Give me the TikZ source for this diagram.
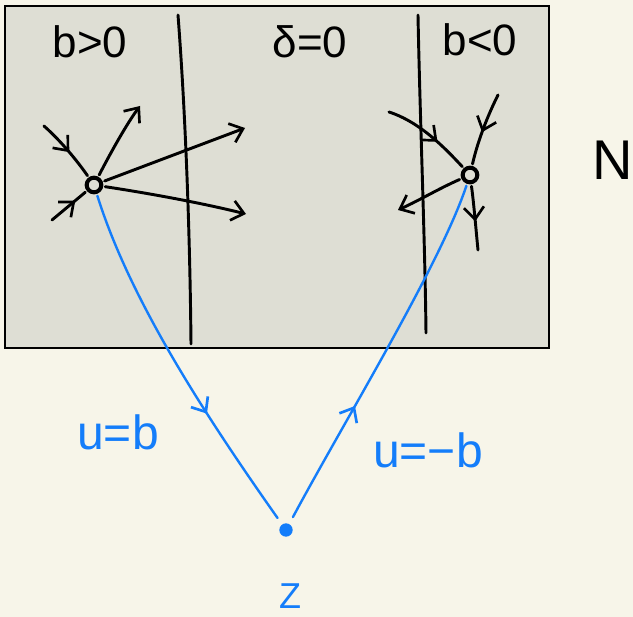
\documentclass[tikz,border=0pt]{standalone}
\usepackage{fontspec}
\setmainfont{Liberation Sans}
\usetikzlibrary{arrows.meta,decorations.markings}
\definecolor{paper}{RGB}{247,245,233}
\definecolor{panel}{RGB}{222,222,212}
\definecolor{pen}{RGB}{0,0,0}
\definecolor{bluepen}{RGB}{20,125,250}
\tikzset{
  ink/.style={draw=pen,line width=2.2pt,line cap=round,line join=round},
  blueink/.style={draw=bluepen,line width=1.8pt,line cap=round,line join=round},
  tip/.style={-{Straight Barb[length=9pt,width=15pt,line width=2pt]}},
  midarr/.style={postaction={decorate},decoration={markings,
     mark=at position #1 with {\arrow{Straight Barb[length=9pt,width=15pt,line width=2pt]}}}},
  bdot/.style={circle,draw=pen,line width=3pt,minimum size=11pt,inner sep=0pt,outer sep=3pt},
  zdot/.style={circle,fill=bluepen,minimum size=10pt,inner sep=0pt,outer sep=6pt},
  lbl/.style={font=\fontsize{33}{36}\selectfont,inner sep=0pt},
  bl/.style={lbl,text=bluepen,font=\fontsize{36}{38}\selectfont}
}
\begin{document}
\begin{tikzpicture}[x=0.75pt,y=-0.75pt]
\useasboundingbox (0,0) rectangle (633,617);
\fill[paper] (0,0) rectangle (633,617);
\draw[line width=1.8pt,fill=panel] (5,6) rectangle (549,348);

% vertical dividing lines
\coordinate (l1a) at (178,15);
\coordinate (l1b) at (191,344);
\coordinate (l2a) at (418,15);
\coordinate (l2b) at (426,333);
\draw[ink] (l1a) .. controls (186,120) and (190,240) .. (l1b);
\draw[ink] (l2a) .. controls (420,120) and (425,240) .. (l2b);

% labels
\node[lbl] (t1) at (90,42) {b>0};
\node[lbl] (t2) at (310,42) {δ=0};
\node[lbl] (t3) at (480,40) {b<0};
\node[lbl,font=\fontsize{42}{44}\selectfont,anchor=west] (N) at (592,160) {N};

% points
\node[bdot] (p) at (94,185) {};
\node[bdot] (q) at (470,175) {};
\node[zdot] (z) at (286,530) {};

% left point flows
\coordinate (a1) at (44,126);
\coordinate (a2) at (140,106);
\coordinate (a3) at (245,128);
\coordinate (a4) at (246,214);
\coordinate (a5) at (52,220);
\draw[ink,midarr=0.55] (a1) .. controls (62,142) and (78,162) .. (p);
\draw[ink,tip] (p) .. controls (112,150) and (128,122) .. (a2);
\draw[ink,tip] (p) -- (a3);
\draw[ink,tip] (p) .. controls (160,195) and (210,205) .. (a4);
\draw[ink,midarr=0.7] (a5) -- (p);

% right point flows
\coordinate (b1) at (389,112);
\coordinate (b2) at (498,95);
\coordinate (b3) at (398,210);
\coordinate (b4) at (478,250);
\draw[ink,midarr=0.62] (b1) .. controls (420,122) and (445,148) .. (q);
\draw[ink,midarr=0.55] (b2) .. controls (488,115) and (478,140) .. (q);
\draw[ink,tip] (q) .. controls (440,188) and (420,200) .. (b3);
\draw[ink,midarr=0.55] (q) .. controls (474,205) and (476,230) .. (b4);

% blue connections
\draw[blueink,midarr=0.66] (p) .. controls (130,300) and (205,415) .. (z);
\draw[blueink,midarr=0.34] (z) .. controls (345,420) and (440,265) .. (q);

\node[bl] (u1) at (118,432) {u=b};
\node[bl] (u2) at (428,450) {u=−b};
\node[bl,font=\fontsize{27}{29}\selectfont] (Z) at (290,596) {Z};
\end{tikzpicture}
\end{document}
